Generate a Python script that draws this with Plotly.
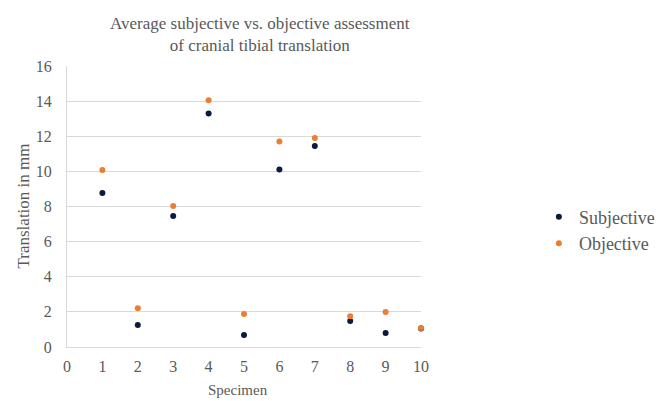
import plotly.graph_objects as go

specimen = [1, 2, 3, 4, 5, 6, 7, 8, 9, 10]
subjective = [8.77, 1.25, 7.46, 13.3, 0.68, 10.1, 11.45, 1.48, 0.8, 1.05]
objective = [10.08, 2.2, 8.03, 14.05, 1.88, 11.7, 11.9, 1.75, 2.0, 1.08]

font = "Liberation Serif"
gray = "#595959"

fig = go.Figure()
fig.add_trace(go.Scatter(x=specimen, y=subjective, mode="markers", name="Subjective",
                         marker=dict(color="#0b1a3d", size=6), cliponaxis=False))
fig.add_trace(go.Scatter(x=specimen, y=objective, mode="markers", name="Objective",
                         marker=dict(color="#ED7D31", size=6), cliponaxis=False))

fig.update_layout(
    width=670, height=401,
    margin=dict(l=59, r=257, t=58, b=62, autoexpand=False),
    paper_bgcolor="white", plot_bgcolor="white",
    font=dict(family=font, size=15, color=gray),
    xaxis=dict(range=[0, 10], dtick=1, showgrid=False, showline=True, linecolor="#d9d9d9",
               linewidth=1, zeroline=False, ticks="outside", ticklen=5,
               tickcolor="rgba(0,0,0,0)", tickfont=dict(family=font, size=16, color=gray),
               automargin=False),
    yaxis=dict(range=[0, 16], dtick=2, showgrid=True, gridcolor="#d9d9d9", showline=True,
               linecolor="#d9d9d9", zeroline=False, ticks="outside", ticklen=11,
               tickcolor="rgba(0,0,0,0)", tickfont=dict(family=font, size=16, color=gray),
               automargin=False),
    legend=dict(x=1.333, xanchor="left", xref="paper", y=0.416, yanchor="middle",
                font=dict(family=font, size=18, color=gray), itemsizing="trace",
                tracegroupgap=0, itemwidth=30),
    annotations=[
        dict(text="Average subjective vs. objective assessment<br>of cranial tibial translation",
             xref="paper", yref="paper", x=0.5, y=1.0, xshift=16, yshift=54, xanchor="center",
             yanchor="top", showarrow=False, align="center",
             font=dict(family=font, size=17, color=gray)),
        dict(text="Translation in mm", xref="paper", yref="paper", x=0, y=0.5, xshift=-44,
             xanchor="center", yanchor="middle", textangle=-90, showarrow=False,
             font=dict(family=font, size=17, color=gray)),
        dict(text="Specimen", xref="paper", yref="paper", x=0.5, y=0, xshift=-6, yshift=-43,
             xanchor="center", yanchor="middle", showarrow=False,
             font=dict(family=font, size=15, color=gray)),
    ],
)

fig.write_html("out.html")
